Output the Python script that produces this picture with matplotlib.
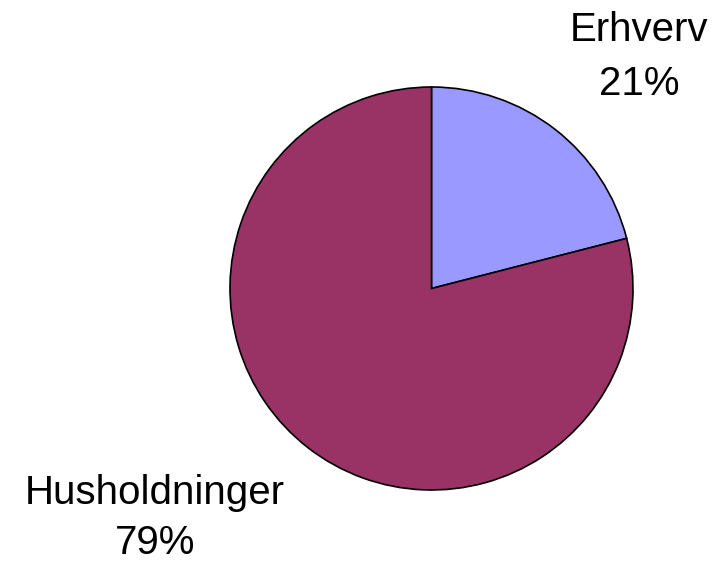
import matplotlib
matplotlib.use("Agg")
import matplotlib.pyplot as plt

categories = ["Erhverv", "Husholdninger"]
values = [21, 79]
colors = ["#9999FF", "#993366"]

plt.rcParams['font.family'] = ['Liberation Sans', 'DejaVu Sans']

W, H = 715, 564
fig = plt.figure(figsize=(W / 100, H / 100), dpi=100)
cx, cy, r = 431.5, 288.5, 202.5
ax = fig.add_axes([(cx - r) / W, (H - cy - r) / H, 2 * r / W, 2 * r / H])
ax.pie(values, colors=colors, startangle=90, counterclock=False,
       wedgeprops=dict(edgecolor="black", linewidth=1.2), radius=1)
ax.set_xlim(-1.005, 1.005)
ax.set_ylim(-1.005, 1.005)
ax.set_aspect("equal")
ax.axis("off")

fs = 29
# (center x, baseline y of name, baseline y of percent) in pixels from top
label_pos = [(639, 41, 95), (155, 504, 554)]
for cat, val, (x, y1, y2) in zip(categories, values, label_pos):
    fig.text(x / W, 1 - y1 / H, cat, ha="center", va="baseline", fontsize=fs)
    fig.text(x / W, 1 - y2 / H, f"{val}%", ha="center", va="baseline", fontsize=fs)

fig.savefig("out.png", dpi=100)
